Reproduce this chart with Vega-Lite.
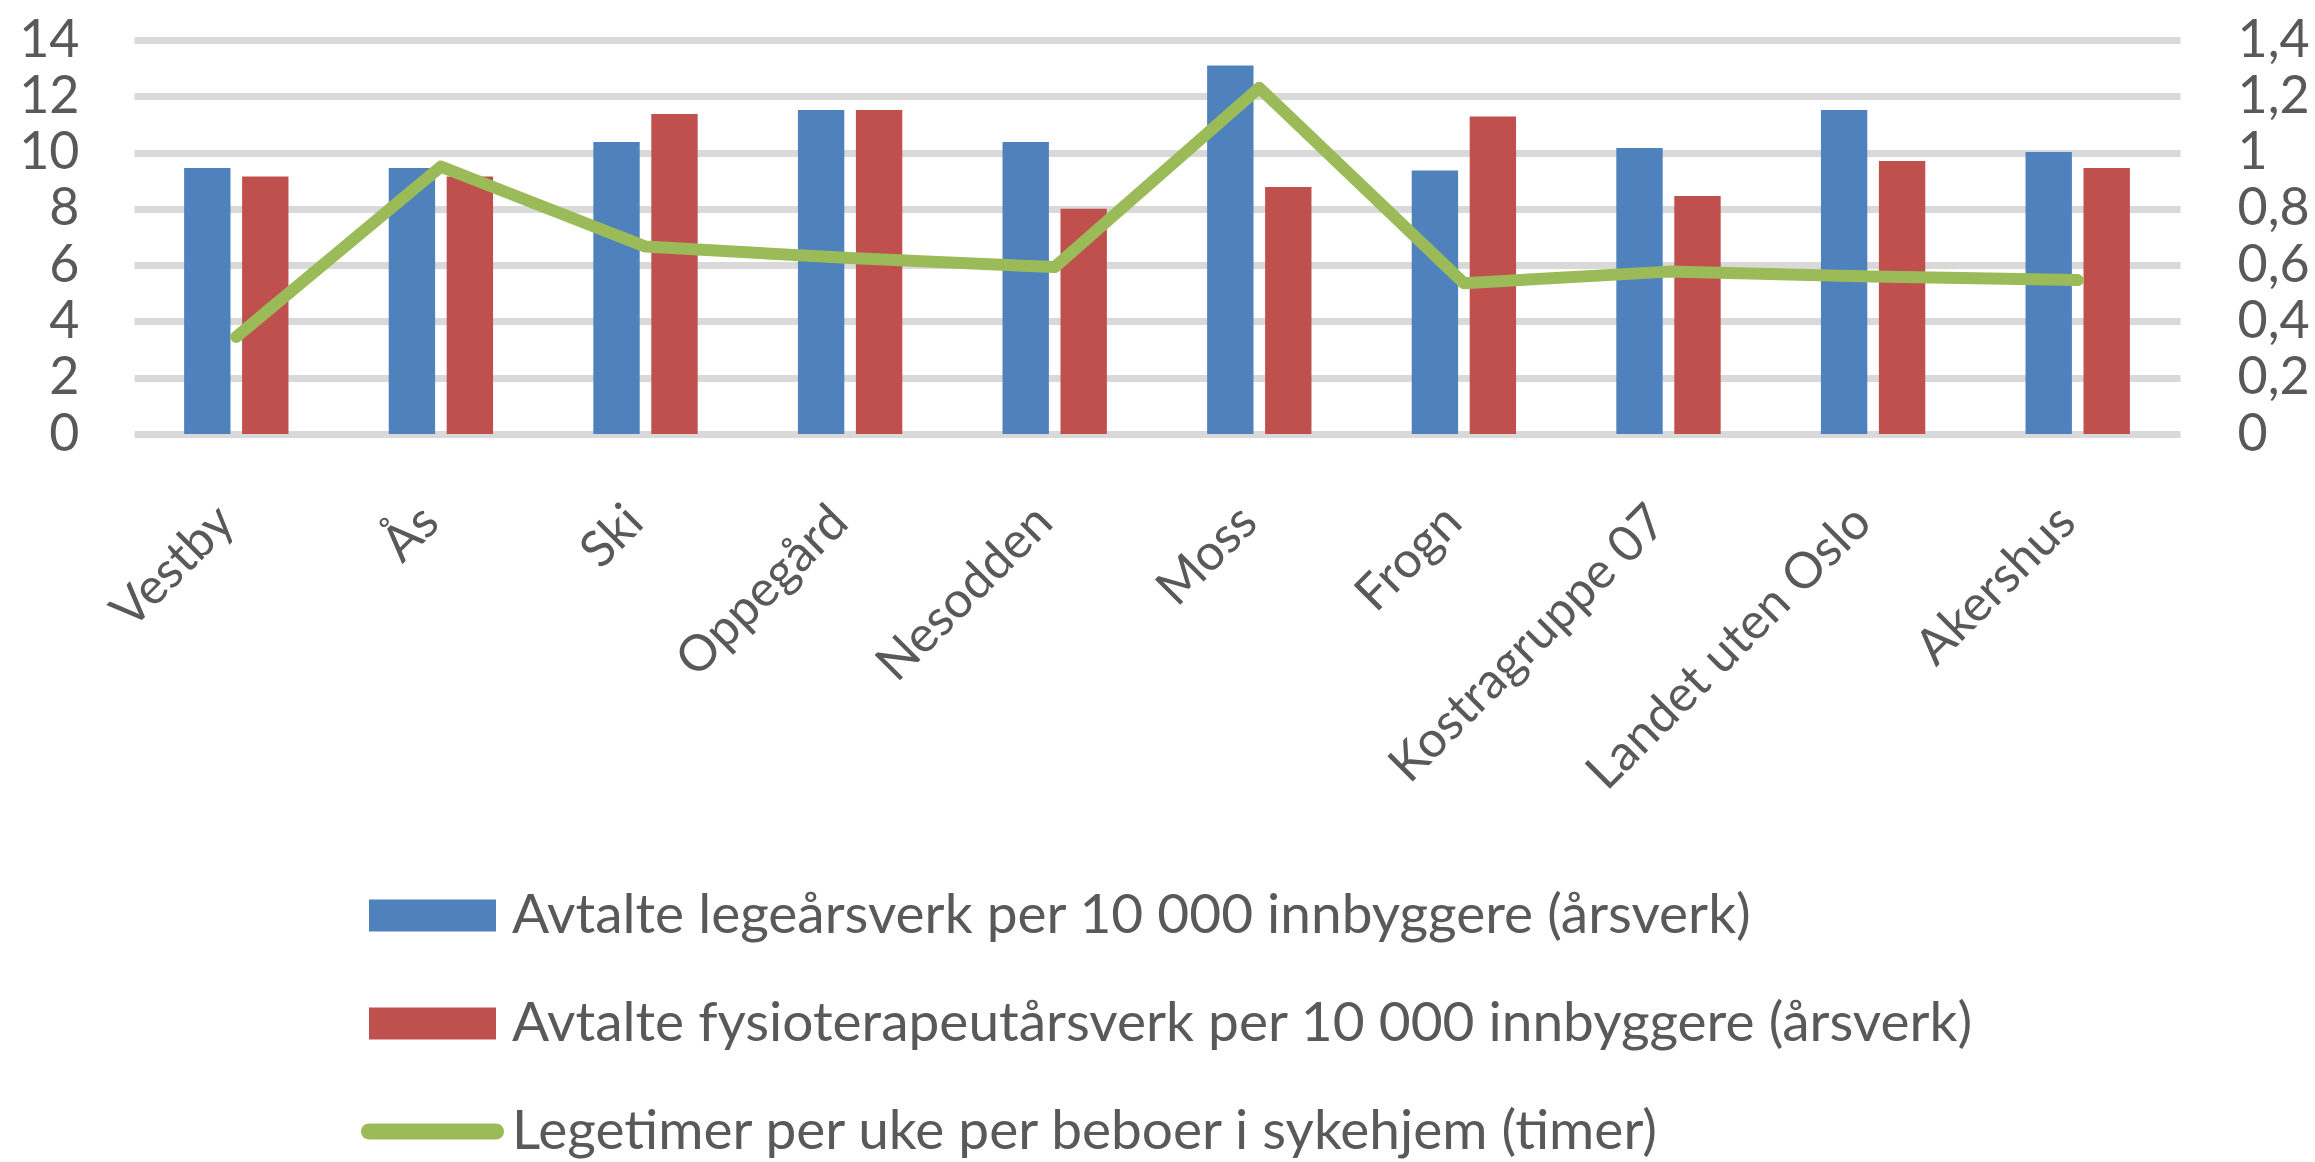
{
  "$schema": "https://vega.github.io/schema/vega-lite/v6.json",
  "width": 2046,
  "height": 394,
  "autosize": {"type": "none"},
  "padding": {"left": 134, "top": 40, "right": 135, "bottom": 728},
  "background": "white",
  "config": {
    "view": {"stroke": null},
    "font": "Lato",
    "axis": {"labelFont": "Lato", "labelColor": "#595959", "domain": false, "ticks": false, "title": null}
  },
  "datasets": {
    "bars": [
      {"kommune": "Vestby", "serie": "Avtalte legeårsverk per 10 000 innbyggere (årsverk)", "verdi": 9.45},
      {"kommune": "Vestby", "serie": "Avtalte fysioterapeutårsverk per 10 000 innbyggere (årsverk)", "verdi": 9.15},
      {"kommune": "Ås", "serie": "Avtalte legeårsverk per 10 000 innbyggere (årsverk)", "verdi": 9.45},
      {"kommune": "Ås", "serie": "Avtalte fysioterapeutårsverk per 10 000 innbyggere (årsverk)", "verdi": 9.15},
      {"kommune": "Ski", "serie": "Avtalte legeårsverk per 10 000 innbyggere (årsverk)", "verdi": 10.38},
      {"kommune": "Ski", "serie": "Avtalte fysioterapeutårsverk per 10 000 innbyggere (årsverk)", "verdi": 11.37},
      {"kommune": "Oppegård", "serie": "Avtalte legeårsverk per 10 000 innbyggere (årsverk)", "verdi": 11.51},
      {"kommune": "Oppegård", "serie": "Avtalte fysioterapeutårsverk per 10 000 innbyggere (årsverk)", "verdi": 11.51},
      {"kommune": "Nesodden", "serie": "Avtalte legeårsverk per 10 000 innbyggere (årsverk)", "verdi": 10.38},
      {"kommune": "Nesodden", "serie": "Avtalte fysioterapeutårsverk per 10 000 innbyggere (årsverk)", "verdi": 8.0},
      {"kommune": "Moss", "serie": "Avtalte legeårsverk per 10 000 innbyggere (årsverk)", "verdi": 13.09},
      {"kommune": "Moss", "serie": "Avtalte fysioterapeutårsverk per 10 000 innbyggere (årsverk)", "verdi": 8.78},
      {"kommune": "Frogn", "serie": "Avtalte legeårsverk per 10 000 innbyggere (årsverk)", "verdi": 9.36},
      {"kommune": "Frogn", "serie": "Avtalte fysioterapeutårsverk per 10 000 innbyggere (årsverk)", "verdi": 11.28},
      {"kommune": "Kostragruppe 07", "serie": "Avtalte legeårsverk per 10 000 innbyggere (årsverk)", "verdi": 10.16},
      {"kommune": "Kostragruppe 07", "serie": "Avtalte fysioterapeutårsverk per 10 000 innbyggere (årsverk)", "verdi": 8.46},
      {"kommune": "Landet uten Oslo", "serie": "Avtalte legeårsverk per 10 000 innbyggere (årsverk)", "verdi": 11.51},
      {"kommune": "Landet uten Oslo", "serie": "Avtalte fysioterapeutårsverk per 10 000 innbyggere (årsverk)", "verdi": 9.7},
      {"kommune": "Akershus", "serie": "Avtalte legeårsverk per 10 000 innbyggere (årsverk)", "verdi": 10.02},
      {"kommune": "Akershus", "serie": "Avtalte fysioterapeutårsverk per 10 000 innbyggere (årsverk)", "verdi": 9.45}
    ],
    "linje": [
      {"kommune": "Vestby", "timer": 0.345},
      {"kommune": "Ås", "timer": 0.95},
      {"kommune": "Ski", "timer": 0.666},
      {"kommune": "Oppegård", "timer": 0.625},
      {"kommune": "Nesodden", "timer": 0.593},
      {"kommune": "Moss", "timer": 1.23},
      {"kommune": "Frogn", "timer": 0.536},
      {"kommune": "Kostragruppe 07", "timer": 0.577},
      {"kommune": "Landet uten Oslo", "timer": 0.56},
      {"kommune": "Akershus", "timer": 0.547}
    ]
  },
  "layer": [
    {
      "data": {"name": "bars"},
      "mark": {"type": "bar"},
      "encoding": {
        "x": {
          "field": "kommune", "type": "nominal", "sort": null,
          "scale": {"paddingInner": 0.49, "paddingOuter": 0.245},
          "axis": {"labelAngle": -45, "labelAlign": "right", "labelBaseline": "middle", "labelFontSize": 50, "labelPadding": 80, "labelOffset": -10, "labelLimit": 1000, "grid": false}
        },
        "xOffset": {
          "field": "serie", "type": "nominal",
          "scale": {"domain": ["Avtalte legeårsverk per 10 000 innbyggere (årsverk)", "Avtalte fysioterapeutårsverk per 10 000 innbyggere (årsverk)"], "paddingInner": 0.2, "paddingOuter": 0}
        },
        "y": {
          "field": "verdi", "type": "quantitative",
          "scale": {"domain": [0, 14]},
          "axis": {"values": [0, 2, 4, 6, 8, 10, 12, 14], "grid": true, "gridColor": "#d9d9d9", "gridWidth": 7, "labelFontSize": 52, "labelPadding": 55}
        },
        "color": {
          "field": "serie", "type": "nominal",
          "scale": {
            "domain": ["Avtalte legeårsverk per 10 000 innbyggere (årsverk)", "Avtalte fysioterapeutårsverk per 10 000 innbyggere (årsverk)", "Legetimer per uke per beboer i sykehjem (timer)"],
            "range": ["#4f81bd", "#c0504d", "#9bbb59"]
          },
          "legend": {
            "orient": "none", "legendX": 235, "legendY": 812, "title": null, "padding": 0,
            "labelFont": "Lato", "labelFontSize": 55, "labelColor": "#595959", "labelLimit": 3000,
            "symbolSize": 16129, "labelOffset": 16, "rowPadding": 16,
            "encode": {
              "symbols": {
                "update": {
                  "shape": {"signal": "indexof(datum.value, 'Legetimer') === 0 ? 'M-1,-0.126H1A0.126,0.126 0 0 1 1,0.126H-1A0.126,0.126 0 0 1 -1,-0.126Z' : 'M-1,-0.252H1V0.252H-1Z'"},
                  "fill": {"scale": "color", "field": "value"},
                  "stroke": {"value": "transparent"},
                  "strokeWidth": {"value": 0},
                  "opacity": {"value": 1}
                }
              }
            }
          }
        }
      }
    },
    {
      "data": {"name": "linje"},
      "mark": {"type": "line", "strokeWidth": 12, "strokeJoin": "round", "strokeCap": "round"},
      "encoding": {
        "x": {"field": "kommune", "type": "nominal", "sort": null},
        "y": {
          "field": "timer", "type": "quantitative",
          "scale": {"domain": [0, 1.4]},
          "axis": {"orient": "right", "values": [0, 0.2, 0.4, 0.6, 0.8, 1, 1.2, 1.4], "grid": false, "labelFontSize": 52, "labelPadding": 57, "labelExpr": "replace(format(datum.value, '~g'), '.', ',')"}
        },
        "color": {"datum": "Legetimer per uke per beboer i sykehjem (timer)"}
      }
    }
  ],
  "resolve": {"scale": {"y": "independent"}}
}
